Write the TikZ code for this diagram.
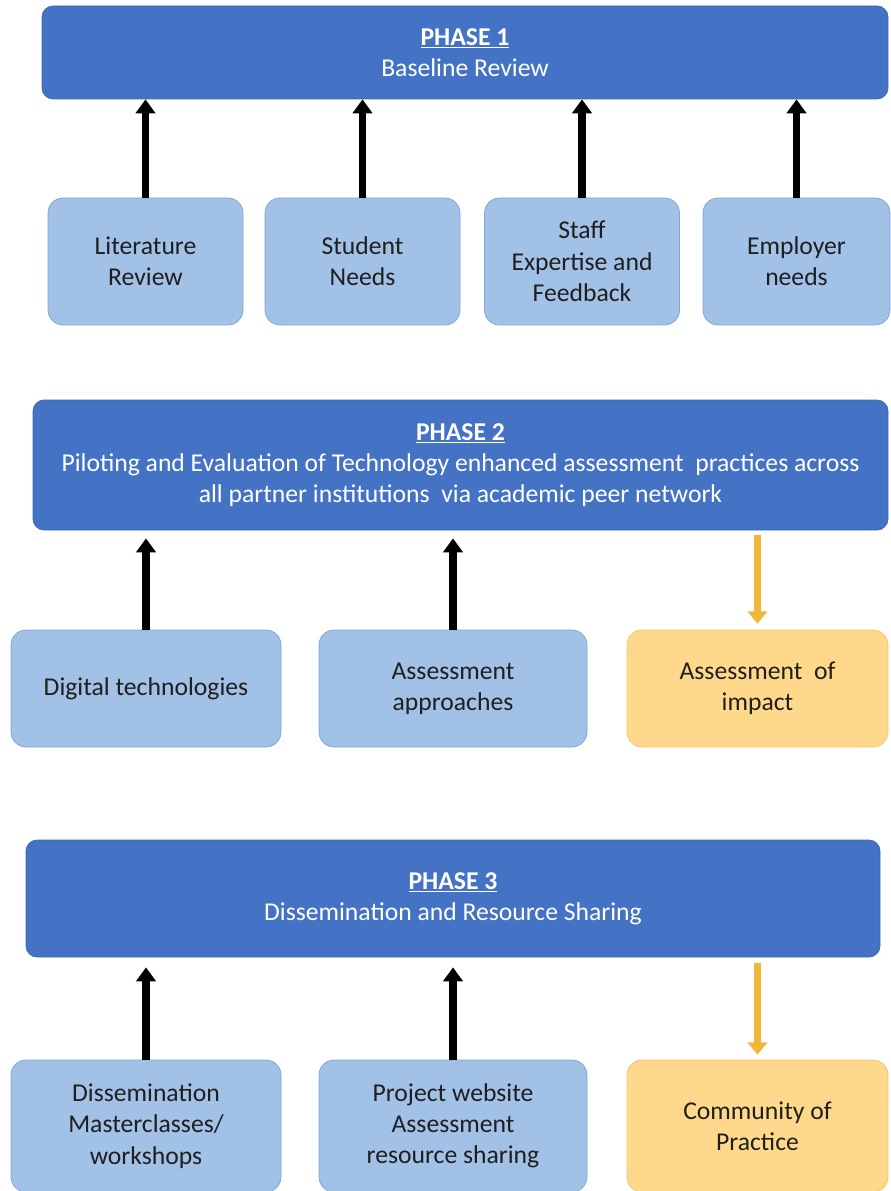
\documentclass[tikz,border=0pt]{standalone}
\usepackage{fontspec}
\setmainfont{Carlito}
\usepackage{tikz}
\usetikzlibrary{positioning, arrows.meta}

\definecolor{phaseblue}{HTML}{4472C4}
\definecolor{boxblue}{HTML}{A2C1E6}
\definecolor{boxedge}{HTML}{7EA3D6}
\definecolor{boxgold}{HTML}{FFD88C}
\definecolor{goldedge}{HTML}{F3C46E}
\definecolor{arrowgold}{HTML}{F0B73A}

\begin{document}
\begin{tikzpicture}[
    every node/.style={font=\fontsize{14.6}{17.8}\selectfont, align=center},
    phase/.style={draw=phaseblue!90!black, fill=phaseblue, rounded corners=0.22cm, text=white, inner sep=0pt},
    item/.style={draw=boxedge, fill=boxblue, rounded corners=0.3cm, text=black!88, inner sep=0pt},
    impact/.style={draw=goldedge, fill=boxgold, rounded corners=0.3cm, text=black!88, inner sep=0pt},
    up/.style={-{Triangle[width=11pt,length=8pt]}, line width=4pt, black},
    down/.style={-{Triangle[width=11pt,length=7pt]}, line width=4pt, arrowgold}]
        \useasboundingbox (0,0) rectangle (17.8,-23.82);
        % phase 1
        \node[phase, minimum width=16.92cm, minimum height=1.86cm] (P1) at (9.30,-1.05) {\textbf{\underline{PHASE 1}}\\Baseline Review};
        \node[item, minimum width=3.9cm, minimum height=2.54cm] (lit) at (2.91,-5.23) {Literature\\Review};
        \node[item, minimum width=3.9cm, minimum height=2.54cm] (stu) at (7.25,-5.23) {Student\\Needs};
        \node[item, minimum width=3.9cm, minimum height=2.54cm] (staff) at (11.64,-5.23) {Staff\\Expertise and\\Feedback};
        \node[item, minimum width=3.74cm, minimum height=2.54cm] (emp) at (15.93,-5.23) {Employer\\needs};
        \foreach \n in {lit, stu, staff, emp}
            \draw[up] (\n.north) -- (\n.north |- P1.south);
        % phase 2
        \node[phase, minimum width=17.1cm, minimum height=2.6cm] (P2) at (9.21,-9.30) {\textbf{\underline{PHASE 2}}\\Piloting and Evaluation of Technology enhanced assessment\ \ practices across\\all partner institutions\ \ via academic peer network};
        \node[item, minimum width=5.4cm, minimum height=2.34cm] (dig) at (2.92,-13.77) {Digital technologies};
        \node[item, minimum width=5.36cm, minimum height=2.34cm] (appr) at (9.06,-13.77) {Assessment\\approaches};
        \node[impact, minimum width=5.22cm, minimum height=2.34cm] (imp) at (15.15,-13.77) {Assessment\ \ of\\impact};
        \draw[up, shorten >=0.16cm] (dig.north) -- (dig.north |- P2.south);
        \draw[up, shorten >=0.16cm] (appr.north) -- (appr.north |- P2.south);
        \draw[down, shorten <=0.1cm, shorten >=0.12cm] (imp.north |- P2.south) -- (imp.north);
        % phase 3
        \node[phase, minimum width=17.08cm, minimum height=2.34cm] (P3) at (9.06,-17.97) {\textbf{\underline{PHASE 3}}\\Dissemination and Resource Sharing};
        \node[item, minimum width=5.4cm, minimum height=2.64cm] (diss) at (2.92,-22.52) {Dissemination\\Masterclasses/\\workshops};
        \node[item, minimum width=5.36cm, minimum height=2.64cm] (web) at (9.06,-22.52) {Project website\\Assessment\\resource sharing};
        \node[impact, minimum width=5.22cm, minimum height=2.64cm] (com) at (15.15,-22.52) {Community of\\Practice};
        \draw[up, shorten >=0.2cm] (diss.north) -- (diss.north |- P3.south);
        \draw[up, shorten >=0.2cm] (web.north) -- (web.north |- P3.south);
        \draw[down, shorten <=0.12cm, shorten >=0.1cm] (com.north |- P3.south) -- (com.north);
\end{tikzpicture}
\end{document}
